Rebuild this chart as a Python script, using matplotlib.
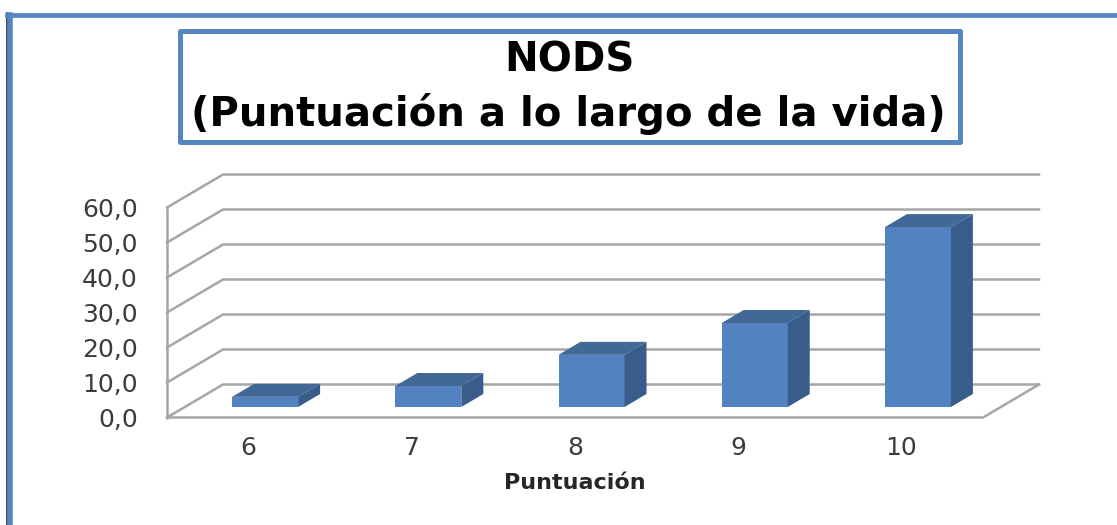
import matplotlib
matplotlib.use('Agg')
import matplotlib.pyplot as plt
from matplotlib.patches import Rectangle
import numpy as np

categorias = ['6', '7', '8', '9', '10']
valores = [2.9, 6.0, 14.9, 24.0, 51.4]
ticks_y = [0, 10, 20, 30, 40, 50, 60]
etiquetas_y = ['0,0', '10,0', '20,0', '30,0', '40,0', '50,0', '60,0']

W, H = 1117, 525
AZUL = '#5283C0'
MARCO = '#5586C2'
ARRIBA = '#426895'
LADO = '#385D8A'
GRIS = '#A6A6A6'
TEXTO = '#3C3C3C'

fig = plt.figure(figsize=(W / 100, H / 100), dpi=100)

# fondo en pixeles para los marcos
bg = fig.add_axes([0, 0, 1, 1])
bg.set_xlim(0, W)
bg.set_ylim(H, 0)
bg.axis('off')
bg.plot([6.5, 6.5], [13, H], color='#1A2A3A', lw=1.2)
bg.plot([9.5, 9.5], [15, H], color=MARCO, lw=4)
bg.plot([7, W], [15, 15], color=MARCO, lw=3.4)
bg.add_patch(Rectangle((179.5, 30.5), 780, 111, fill=False, ec=MARCO, lw=3.6, joinstyle='round'))
bg.text(569, 61, 'NODS', ha='center', va='center', fontsize=29, fontweight='bold',
        family='DejaVu Sans', color='black')
bg.text(568, 114, '(Puntuación a lo largo de la vida)', ha='center', va='center',
        fontsize=29, fontweight='bold', family='DejaVu Sans', color='black')

# plano frontal del grafico
x0, x1, y0, y60 = 167, 983, 417.5, 207.5
ax = fig.add_axes([x0 / W, 1 - y0 / H, (x1 - x0) / W, (y0 - y60) / H])
ax.set_xlim(-0.5, 4.5)
ax.set_ylim(0, 60)
ax.patch.set_alpha(0)
for s in ax.spines.values():
    s.set_visible(False)

ux = 5 / (x1 - x0)
uy = 60 / (y0 - y60)
fondo_x, fondo_y = 56 * ux, 33 * uy

# paredes y lineas de rejilla
for t in ticks_y:
    ax.plot([-0.5, -0.5 + fondo_x, 4.5 + fondo_x], [t, t + fondo_y, t + fondo_y],
            color=GRIS, lw=1.8, clip_on=False, zorder=1, solid_joinstyle='miter')
ax.plot([-0.5, -0.5], [0, 60], color=GRIS, lw=1.8, clip_on=False, zorder=1)
ax.plot([-0.5, 4.5, 4.5 + fondo_x], [0, 0, fondo_y], color=GRIS, lw=1.8, clip_on=False, zorder=1)

# barras con falso 3D
ancho = 66 * ux
off_x, off_y = 16.5 * ux, 10.5 * uy
prof_x, prof_y = 22 * ux, 13 * uy
pos = np.arange(len(categorias))
ax.bar(pos + off_x, valores, width=ancho, bottom=off_y, color=AZUL, zorder=3, clip_on=False)
for p, v in zip(pos, valores):
    izq = p + off_x - ancho / 2
    der = p + off_x + ancho / 2
    arr = v + off_y
    ax.fill([izq, der, der + prof_x, izq + prof_x], [arr, arr, arr + prof_y, arr + prof_y],
            color=ARRIBA, zorder=3, clip_on=False, lw=0)
    ax.fill([der, der + prof_x, der + prof_x, der], [off_y, off_y + prof_y, arr + prof_y, arr],
            color=LADO, zorder=3, clip_on=False, lw=0)

ax.set_xticks(pos)
ax.set_xticklabels(categorias, fontsize=18, color=TEXTO)
ax.set_yticks(ticks_y)
ax.set_yticklabels(etiquetas_y, fontsize=18, color=TEXTO)
ax.tick_params(axis='both', length=0)
ax.tick_params(axis='x', pad=13)
ax.tick_params(axis='y', pad=21)
ax.set_xlabel('Puntuación', fontsize=16, fontweight='bold', color='#262626', labelpad=10)

fig.savefig('out.png', dpi=100)
